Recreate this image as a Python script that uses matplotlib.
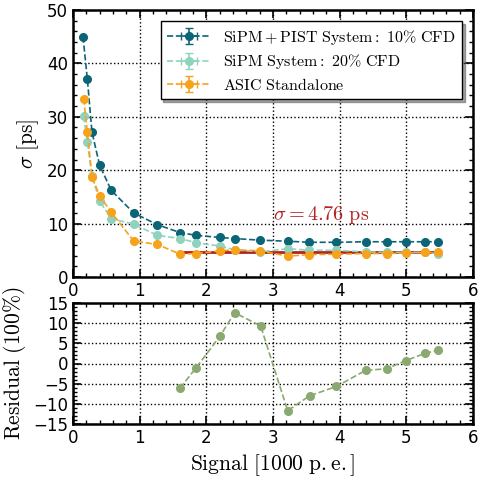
import numpy as np
import matplotlib
matplotlib.use("Agg")
import matplotlib.pyplot as plt
from matplotlib.ticker import MultipleLocator

plt.rcParams["mathtext.fontset"] = "cm"
plt.rcParams["font.family"] = "DejaVu Sans"

# ---- data ----
sig_pist = [0.15, 0.215, 0.285, 0.40, 0.575, 0.91, 1.265, 1.61, 1.85, 2.205,
            2.425, 2.805, 3.22, 3.545, 3.95, 4.39, 4.71, 5.0, 5.28, 5.475]
res_pist = [45.0, 37.1, 27.1, 20.9, 16.2, 12.0, 9.8, 8.3, 7.8, 7.4,
            7.2, 6.9, 6.7, 6.5, 6.5, 6.6, 6.6, 6.6, 6.6, 6.6]

sig_sipm = [0.16, 0.215, 0.285, 0.40, 0.575, 0.91, 1.265, 1.61, 1.85, 2.2,
            2.425, 2.805, 3.22, 3.545, 3.95, 4.39, 4.71, 5.0, 5.28, 5.475]
res_sipm = [30.1, 25.3, 18.9, 14.2, 10.9, 9.9, 7.8, 7.2, 6.4, 5.8,
            5.1, 4.7, 5.3, 5.0, 5.0, 4.7, 4.6, 4.6, 4.6, 4.4]

sig_asic = [0.16, 0.215, 0.285, 0.40, 0.575, 0.91, 1.265, 1.61, 1.85, 2.2,
            2.425, 2.805, 3.22, 3.545, 3.95, 4.39, 4.71, 5.0, 5.28, 5.475]
res_asic = [33.4, 27.1, 18.75, 15.2, 12.1, 6.75, 6.1, 4.25, 4.4, 4.9,
            5.1, 4.9, 3.9, 4.2, 4.25, 4.4, 4.4, 4.5, 4.6, 4.6]

fit_value = 4.76
fit_range = [1.6, 5.475]

sig_resid = [1.605, 1.85, 2.205, 2.425, 2.815, 3.22, 3.55, 3.95, 4.39, 4.705,
             4.99, 5.275, 5.475]
resid = [-6.1, -1.0, 6.8, 12.6, 9.3, -11.7, -8.0, -5.7, -1.7, -1.3,
         0.7, 2.5, 3.3]

c_pist = "#0b6577"
c_sipm = "#8fd3bf"
c_asic = "#f7a21b"
c_fit = "#b22222"
c_res = "#89a971"

fig = plt.figure(figsize=(4.78, 4.78), dpi=100)
ax1 = fig.add_axes([73 / 478, 1 - 277 / 478, 400 / 478, 267 / 478])
ax2 = fig.add_axes([73 / 478, 1 - 424 / 478, 400 / 478, 121 / 478])

# ---- top: resolution ----
ax1.plot(fit_range, [fit_value, fit_value], color=c_fit, lw=2.0, zorder=2)
for x, y, c, lab in [
    (sig_pist, res_pist, c_pist, r"$\mathrm{SiPM+PIST\ System:\ 10\%\ CFD}$"),
    (sig_sipm, res_sipm, c_sipm, r"$\mathrm{SiPM\ System:\ 20\%\ CFD}$"),
    (sig_asic, res_asic, c_asic, r"$\mathrm{ASIC\ Standalone}$"),
]:
    ax1.errorbar(x, y, xerr=np.zeros(len(x)), yerr=np.zeros(len(y)),
                 fmt="o--", color=c, ms=5.5, lw=1.2, capsize=3,
                 elinewidth=1.2, label=lab, zorder=3)

ax1.text(3.0, 9.5, r"$\sigma = 4.76\ \mathrm{ps}$", color=c_fit,
         fontsize=14.5, va="bottom", ha="left")

ax1.set_xlim(0, 6)
ax1.set_ylim(0, 50)
ax1.xaxis.set_major_locator(MultipleLocator(1))
ax1.xaxis.set_minor_locator(MultipleLocator(0.2))
ax1.yaxis.set_major_locator(MultipleLocator(10))
ax1.yaxis.set_minor_locator(MultipleLocator(2))
ax1.set_ylabel(r"$\sigma\ \mathrm{[ps]}$", fontsize=15.5)
leg = ax1.legend(loc="upper right", fontsize=11.5, frameon=True, shadow=True,
                 fancybox=False, numpoints=1, handlelength=2.7,
                 labelspacing=0.35, borderaxespad=0.7)
leg.get_frame().set_edgecolor("black")
leg.get_frame().set_linewidth(1.0)

# ---- bottom: residuals ----
ax2.plot(sig_resid, resid, "o--", color=c_res, ms=5.5, lw=1.2)
ax2.set_xlim(0, 6)
ax2.set_ylim(-15, 15)
ax2.xaxis.set_major_locator(MultipleLocator(1))
ax2.xaxis.set_minor_locator(MultipleLocator(0.2))
ax2.yaxis.set_major_locator(MultipleLocator(5))
ax2.yaxis.set_minor_locator(MultipleLocator(1))
ax2.set_ylabel(r"$\mathrm{Residual\ (100\%)}$", fontsize=15.5)
ax2.set_xlabel(r"$\mathrm{Signal\ [1000\ p.e.]}$", fontsize=15.5)

for ax in (ax1, ax2):
    ax.grid(True, which="major", color="black", linestyle=":", lw=1.0)
    ax.tick_params(which="both", direction="in", top=True, right=True,
                   labelsize=12)
    ax.tick_params(which="major", length=6, width=1.2)
    ax.tick_params(which="minor", length=3, width=1.0)
    for s in ax.spines.values():
        s.set_linewidth(1.8)

fig.savefig("out.png", dpi=100)
